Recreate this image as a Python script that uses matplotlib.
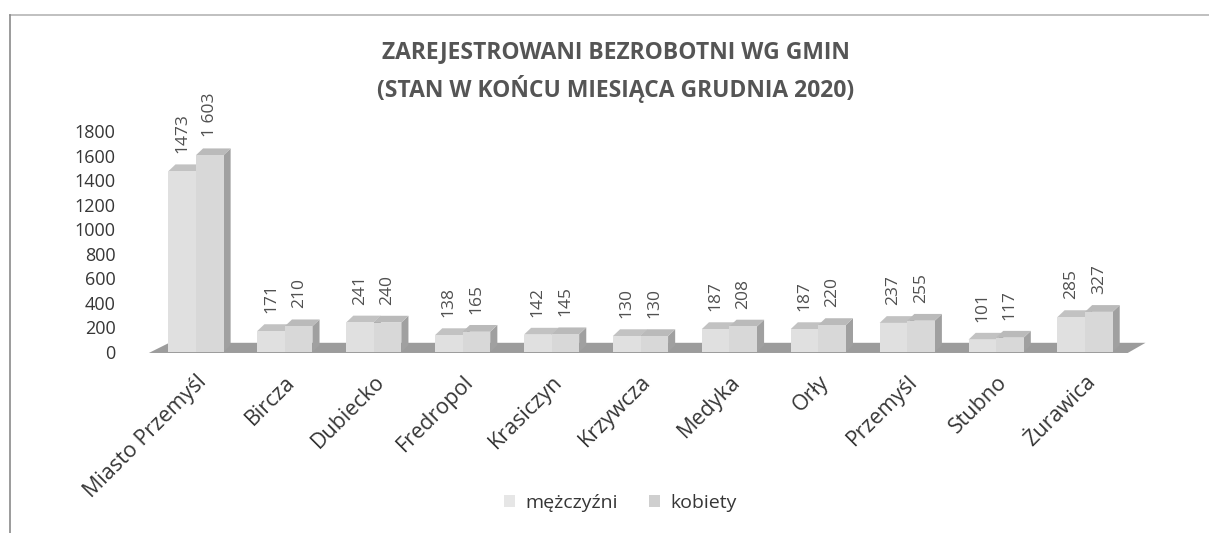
import matplotlib

matplotlib.use("Agg")
import matplotlib.pyplot as plt
import matplotlib.transforms as mtransforms
from matplotlib.lines import Line2D
from matplotlib.patches import Patch, Polygon, Rectangle

gminy = ["Miasto Przemyśl", "Bircza", "Dubiecko", "Fredropol", "Krasiczyn",
         "Krzywcza", "Medyka", "Orły", "Przemyśl", "Stubno", "Żurawica"]
mezczyzni = [1473, 171, 241, 138, 142, 130, 187, 187, 237, 101, 285]
kobiety = [1603, 210, 240, 165, 145, 130, 208, 220, 255, 117, 327]
etykiety_m = ["1473", "171", "241", "138", "142", "130", "187", "187", "237", "101", "285"]
etykiety_k = ["1 603", "210", "240", "165", "145", "130", "208", "220", "255", "117", "327"]
y_ticks = [0, 200, 400, 600, 800, 1000, 1200, 1400, 1600, 1800]

plt.rcParams["font.family"] = ["Open Sans", "DejaVu Sans"]
TEXT = "#363636"

W, H = 1209, 533
fig = plt.figure(figsize=(W / 100, H / 100), dpi=100)
ax = fig.add_axes([151.5 / W, (H - 352) / H, 978 / W, 221 / H])
ax.set_xlim(-0.5, len(gminy) - 0.5)
ax.set_ylim(0, 1800)

# floor of the pseudo-3D chart
floor = Polygon([(-0.53, -8), (10.48, -8), (10.68, 75), (-0.3, 75)],
                closed=True, facecolor="#9c9c9c", edgecolor="none", clip_on=False, zorder=1)
ax.add_patch(floor)

bw, dx, dy = 0.31, 0.08, 55


def bar3d(x0, v, front, top, side):
    ax.add_patch(Polygon([(x0 + bw, 0), (x0 + bw + dx, dy), (x0 + bw + dx, v + dy), (x0 + bw, v)],
                         closed=True, facecolor=side, edgecolor="none", clip_on=False, zorder=2))
    ax.add_patch(Polygon([(x0, v), (x0 + dx, v + dy), (x0 + bw + dx, v + dy), (x0 + bw, v)],
                         closed=True, facecolor=top, edgecolor="none", clip_on=False, zorder=2))
    ax.add_patch(Rectangle((x0, 0), bw, v, facecolor=front, edgecolor="none",
                           clip_on=False, zorder=2))


for i, (m, k) in enumerate(zip(mezczyzni, kobiety)):
    bar3d(i - bw, m, "#e0e0e0", "#c2c2c2", "#a6a6a6")
    bar3d(i, k, "#d8d8d8", "#bababa", "#a0a0a0")
    ax.annotate(etykiety_m[i], (i - bw / 2, m + dy), xytext=(0, 8), textcoords="offset points",
                rotation=90, ha="center", va="bottom", fontsize=12.5, color="#505050")
    ax.annotate(etykiety_k[i], (i + bw / 2, k + dy), xytext=(0, 8), textcoords="offset points",
                rotation=90, ha="center", va="bottom", fontsize=12.5, color="#505050")

ax.set_yticks(y_ticks)
ax.set_yticklabels([str(t) for t in y_ticks], fontsize=13, color=TEXT)
ax.set_xticks(range(len(gminy)))
ax.set_xticklabels(gminy, rotation=45, ha="right", rotation_mode="anchor",
                   fontsize=15.5, color=TEXT)
shift = mtransforms.ScaledTranslation(-10 / 100, 0, fig.dpi_scale_trans)
for lbl in ax.get_xticklabels():
    lbl.set_transform(lbl.get_transform() + shift)
ax.tick_params(length=0)
ax.tick_params(axis="x", pad=14)
ax.tick_params(axis="y", pad=26)
for s in ax.spines.values():
    s.set_visible(False)
ax.patch.set_visible(False)

fig.text(616 / W, 1 - 52 / H, "ZAREJESTROWANI BEZROBOTNI WG GMIN", ha="center", va="center",
         fontsize=16.5, fontweight="bold", color="#555555")
fig.text(616 / W, 1 - 89 / H, "(STAN W KOŃCU MIESIĄCA GRUDNIA 2020)", ha="center", va="center",
         fontsize=16.5, fontweight="bold", color="#555555")

handles = [Patch(facecolor="#e6e6e6", edgecolor="none"),
           Patch(facecolor="#cfcfcf", edgecolor="none")]
fig.legend(handles, ["mężczyźni", "kobiety"], loc="center", bbox_to_anchor=(620 / W, 1 - 503 / H),
           ncol=2, frameon=False, fontsize=14, labelcolor=TEXT, handlelength=0.6,
           handleheight=0.6, handletextpad=0.5, columnspacing=1.6)

# scanned page frame
fig.add_artist(Line2D([10 / W, 1], [1 - 15 / H, 1 - 15 / H], color="#b5b5b5", lw=1.2))
fig.add_artist(Line2D([10 / W, 10 / W], [0, 1 - 15 / H], color="#8a8a8a", lw=1.2))

fig.savefig("out.png", dpi=100)
